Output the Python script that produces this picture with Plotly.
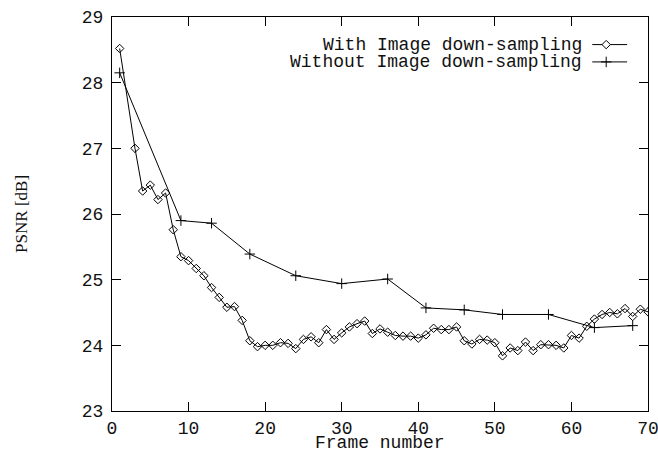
import plotly.graph_objects as go

# ---- data ----
frames_with = [1] + list(range(3, 71))
psnr_with = [28.52,
             27.00, 26.35, 26.44, 26.22, 26.32, 25.76, 25.35, 25.29, 25.17, 25.06,
             24.88, 24.73, 24.58, 24.59, 24.38, 24.07, 23.98, 24.00, 24.00, 24.04,
             24.03, 23.95, 24.09, 24.13, 24.04, 24.24, 24.09, 24.19, 24.28, 24.33,
             24.37, 24.18, 24.25, 24.20, 24.15, 24.14, 24.14, 24.11, 24.16, 24.26,
             24.24, 24.24, 24.28, 24.07, 24.02, 24.09, 24.08, 24.04, 23.84, 23.96,
             23.92, 24.05, 23.92, 24.01, 24.01, 24.00, 23.96, 24.15, 24.11, 24.29,
             24.40, 24.47, 24.50, 24.48, 24.56, 24.44, 24.55, 24.51]
frames_without = [1, 9, 13, 18, 24, 30, 36, 41, 46, 51, 57, 63, 68]
psnr_without = [28.15, 25.90, 25.86, 25.39, 25.06, 24.94, 25.01, 24.57, 24.54,
                24.47, 24.47, 24.27, 24.30]

x_ticks = [0, 10, 20, 30, 40, 50, 60, 70]
y_ticks = [23, 24, 25, 26, 27, 28, 29]
series_names = ["With Image down-sampling", "Without Image down-sampling"]
x_title = "Frame number"
y_title = "PSNR [dB]"

MONO = "Liberation Mono, Courier New, monospace"
SERIF = "Liberation Serif, Times New Roman, serif"
INK = "#111111"

fig = go.Figure()

fig.add_trace(go.Scatter(
    x=frames_with, y=psnr_with, mode="lines+markers", name=series_names[0],
    line=dict(color="black", width=1),
    marker=dict(symbol="diamond-open", size=6.5, color="black", line=dict(width=1, color="black")),
    showlegend=False))
fig.add_trace(go.Scatter(
    x=frames_without, y=psnr_without, mode="lines+markers", name=series_names[1],
    line=dict(color="black", width=1),
    marker=dict(symbol="cross-thin-open", size=7.5, color="black", line=dict(width=1, color="black")),
    showlegend=False))

# ---- gnuplot-style key: text, then a sample line with its point on the right ----
key_rows = [0.930, 0.886]
key_text_x = 0.881
key_line = (0.896, 0.961)
key_pt_x = 0.922
key_paths = ["M-4.2,0L0,4.2L4.2,0L0,-4.2Z", "M-5.25,0H5.25M0,-5.25V5.25"]
for name, yy, pth in zip(series_names, key_rows, key_paths):
    fig.add_shape(type="line", xref="paper", yref="paper",
                  x0=key_line[0], x1=key_line[1], y0=yy, y1=yy,
                  line=dict(color="black", width=1))
    fig.add_shape(type="path", xref="paper", yref="paper",
                  xsizemode="pixel", ysizemode="pixel", xanchor=key_pt_x, yanchor=yy,
                  path=pth, fillcolor="white", line=dict(color="black", width=1))
    fig.add_annotation(x=key_text_x, y=yy, xref="paper", yref="paper", text=name,
                       showarrow=False, xanchor="right", yanchor="middle",
                       font=dict(family=MONO, size=18, color=INK))

# axis titles
fig.add_annotation(x=0.5, y=-0.080, xref="paper", yref="paper", text=x_title,
                   showarrow=False, xanchor="center", yanchor="middle",
                   font=dict(family=MONO, size=18, color=INK))
fig.add_annotation(x=-0.170, y=0.5, xref="paper", yref="paper", text=y_title,
                   showarrow=False, xanchor="center", yanchor="middle", textangle=-90,
                   font=dict(family=SERIF, size=17, color=INK))

axis_common = dict(showgrid=False, zeroline=False, showline=True, linecolor="black",
                   linewidth=1, mirror="ticks", ticks="inside", ticklen=9,
                   tickcolor="black", tickwidth=1, automargin=False,
                   ticklabeloverflow="allow",
                   tickfont=dict(family=MONO, size=18, color=INK))

fig.update_layout(
    width=658, height=450,
    margin=dict(l=112, r=10, t=17, b=39),
    paper_bgcolor="white", plot_bgcolor="white",
    xaxis=dict(range=[0, 70], tickvals=x_ticks, ticktext=[str(v) for v in x_ticks],
               ticklabelstandoff=0, **axis_common),
    yaxis=dict(range=[23, 29], tickvals=y_ticks, ticktext=[str(v) for v in y_ticks],
               ticklabelstandoff=4, **axis_common),
)

fig.write_html("out.html", config={"displayModeBar": False},
               post_script="document.body.style.margin='0';")
